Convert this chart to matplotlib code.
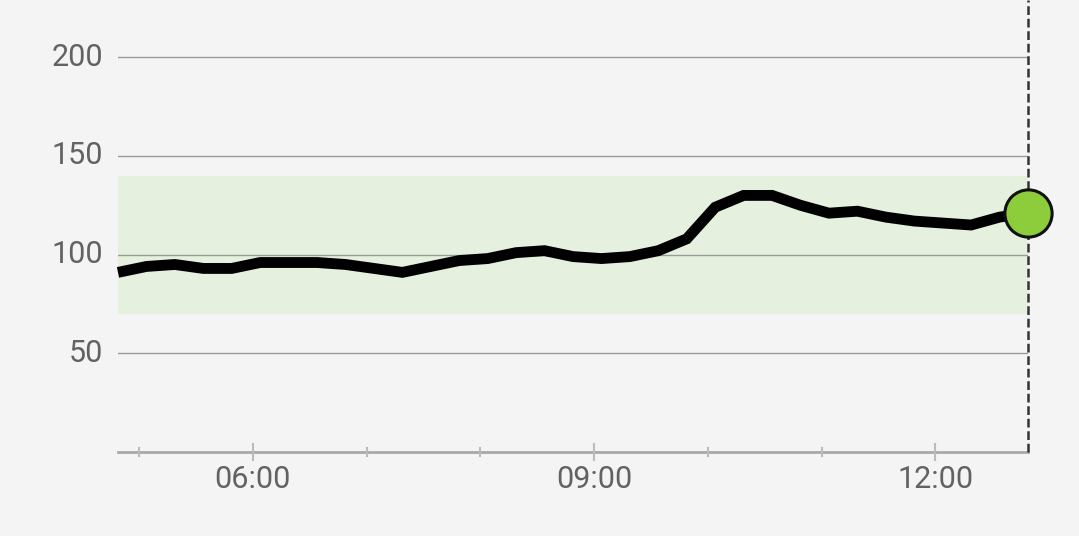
import matplotlib
matplotlib.use("Agg")
import matplotlib.pyplot as plt
import numpy as np

plt.rcParams['font.family'] = ['Roboto', 'DejaVu Sans']

# readings every 15 min, ~04:49 -> ~12:49 (hours as decimals)
start_hour = 4.814
step_hour = 0.25
glucose = [91, 94, 95, 93, 93, 96, 96, 96, 95, 93, 91, 94, 97, 98, 101, 102, 99,
           98, 99, 102, 108, 124, 130, 130, 125, 121, 122, 119, 117, 116, 115, 119, 121]
hours = start_hour + step_hour * np.arange(len(glucose))

target_low, target_high = 70, 140
y_ticks = [50, 100, 150, 200]
major_hours = [6, 9, 12]
major_labels = ['06:00', '09:00', '12:00']
minor_hours = [5, 7, 8, 10, 11]

bg = '#f4f4f4'
fig = plt.figure(figsize=(10.79, 5.36), dpi=100, facecolor=bg)
ax = fig.add_axes([118 / 1079, (536 - 452) / 536, (1028 - 118) / 1079, 452 / 536])
ax.set_facecolor(bg)

x0, x1 = hours[0], hours[-1]
ax.set_xlim(x0, x1)
ax.set_ylim(0, 229)

# target range band
ax.axhspan(target_low, target_high, color='#e6f0de', zorder=1, lw=0)

for v in y_ticks:
    ax.axhline(v, color='#9a9a9a', lw=1, zorder=2)
    ax.text(x0 - 0.13, v, str(v), ha='right', va='center', fontsize=22,
            color='#626262')

ax.axhline(0, color='#a8a8a8', lw=2, zorder=2, clip_on=False)

for h, lab in zip(major_hours, major_labels):
    ax.plot([h, h], [-3.8, 3.8], color='#bbbbbb', lw=1.5, clip_on=False, zorder=2)
    ax.text(h, -14, lab, ha='center', va='center', fontsize=22, color='#626262')
for h in minor_hours:
    ax.plot([h, h], [-2, 2], color='#bbbbbb', lw=1.5, clip_on=False, zorder=2)

# now line
ax.plot([x1, x1], [0, 229], color='#333333', lw=1.8, dashes=(3.5, 1.5),
        clip_on=False, zorder=3)

ax.plot(hours, glucose, color='black', lw=7.8, solid_joinstyle='miter',
        solid_capstyle='butt', zorder=4, clip_on=False)
ax.plot([hours[-1]], [glucose[-1]], 'o', ms=34, mfc='#8dcc3b', mec='#111111',
        mew=2.2, zorder=5, clip_on=False)

for s in ax.spines.values():
    s.set_visible(False)
ax.set_xticks([])
ax.set_yticks([])

fig.savefig('out.png', dpi=100, facecolor=bg)
